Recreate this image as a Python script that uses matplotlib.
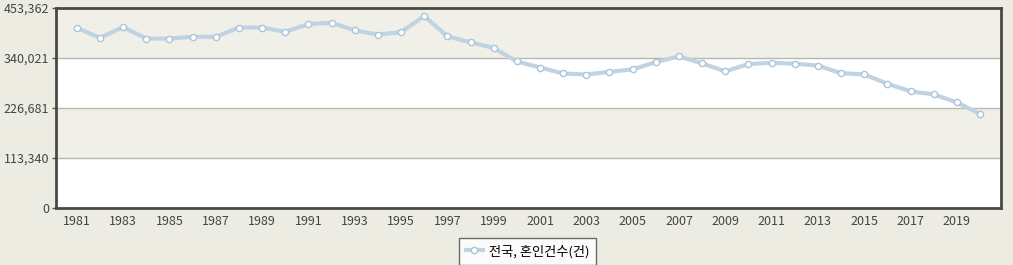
import numpy as np
import matplotlib.pyplot as plt
from matplotlib.ticker import FuncFormatter

years = list(range(1981, 2021))
marriages = [408000, 386000, 410000, 384000, 384000, 388000, 388000, 409000, 409000, 399312,
             416872, 419774, 402593, 393121, 398484, 434911, 388960, 375616, 362673, 332090,
             318407, 304877, 302503, 308598, 314304, 330634, 343559, 327715, 309759, 326104,
             329087, 327073, 322807, 305507, 302828, 281635, 264455, 257622, 239159, 213502]
y_ticks = [0, 113340, 226681, 340021, 453362]
x_ticks = list(range(1981, 2020, 2))
series_name = "전국, 혼인건수(건)"

plt.rcParams['font.family'] = ['Noto Sans CJK KR', 'DejaVu Sans']

fig = plt.figure(figsize=(10.13, 2.65), dpi=100, facecolor='#ecece3')
ax = fig.add_axes([0.0553, 0.215, 0.9327, 0.755])
ax.set_facecolor('white')

# alternating bands between gridlines
for i in range(len(y_ticks) - 1):
    if i % 2 == 1:
        ax.axhspan(y_ticks[i], y_ticks[i + 1], color='#f0f0e9', zorder=0, lw=0)
for v in y_ticks[1:-1]:
    ax.axhline(v, color='#b8b8b0', lw=1, zorder=1)

ax.plot(years, marriages, color='#c0d3e3', lw=3, zorder=3,
        marker='o', markersize=4.5, markerfacecolor='white',
        markeredgecolor='#abc5da', markeredgewidth=1, label=series_name)

ax.set_xlim(1980.1, 2020.9)
ax.set_ylim(0, 453362)
ax.set_yticks(y_ticks)
ax.set_xticks(x_ticks)
ax.yaxis.set_major_formatter(FuncFormatter(lambda v, p: f"{int(v):,}"))
ax.tick_params(axis='y', length=3, width=1, color='#555550', labelsize=9,
               labelcolor='#444444', pad=2)
ax.tick_params(axis='x', length=0, labelsize=9, labelcolor='#444444', pad=5)

for s in ax.spines.values():
    s.set_color('#4a4a42')
    s.set_linewidth(2)

leg = fig.legend(loc='upper center', bbox_to_anchor=(0.521, 0.102),
                 frameon=True, fancybox=False, borderaxespad=0,
                 prop={'family': ['Noto Sans CJK KR', 'DejaVu Sans'], 'size': 9.5},
                 handlelength=1.3, borderpad=0.5, handletextpad=0.5)
leg.get_frame().set_edgecolor('#4a4a42')
leg.get_frame().set_linewidth(1)

fig.savefig('out.png', dpi=100, facecolor=fig.get_facecolor())
